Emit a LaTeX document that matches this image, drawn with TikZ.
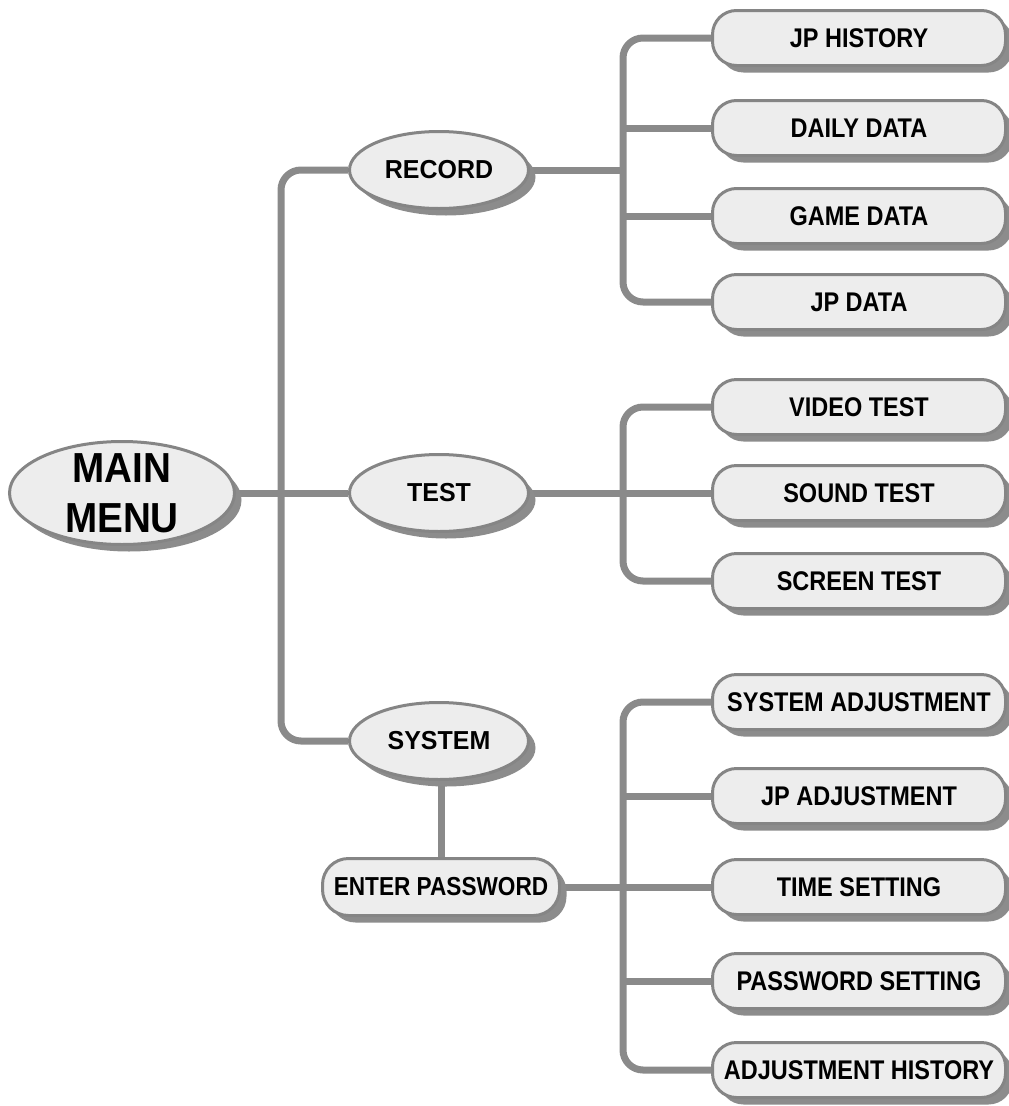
\documentclass[tikz,border=0pt]{standalone}
\usepackage{fontspec}
\setmainfont{Liberation Sans}
\newfontfamily\ellfont{Liberation Sans}[FakeStretch=0.96]
\newfontfamily\boxfont{Liberation Sans}[FakeStretch=0.87]
\newfontfamily\bigfont{Liberation Sans}[FakeStretch=0.92]
\usetikzlibrary{shapes.geometric,shadows,backgrounds}
\definecolor{linegray}{HTML}{8A8A8A}
\definecolor{edgegray}{HTML}{858585}
\definecolor{fillgray}{HTML}{EDEDED}
\definecolor{shadowgray}{HTML}{8C8C8C}
\tikzset{
  conn/.style={draw=linegray, line width=7pt, rounded corners=20pt},
  shad/.style={drop shadow={shadow xshift=7pt, shadow yshift=-7pt, fill=shadowgray, opacity=1}},
  ellnode/.style={ellipse, draw=edgegray, line width=3pt, fill=fillgray,
    minimum width=179pt, minimum height=77pt, inner sep=0pt, shad,
    font=\ellfont\bfseries\fontsize{26}{30}\selectfont},
  mainnode/.style={ellipse, draw=edgegray, line width=3pt, fill=fillgray,
    minimum width=225pt, minimum height=103pt, inner xsep=0pt, inner ysep=-10pt, shad,
    align=center, font=\bigfont\bfseries\fontsize{42}{50}\selectfont},
  boxnode/.style={rectangle, rounded corners=24pt, draw=edgegray, line width=3pt, fill=fillgray,
    minimum width=293pt, minimum height=55pt, inner sep=0pt, shad,
    font=\boxfont\bfseries\fontsize{27}{30}\selectfont},
  pwnode/.style={boxnode, minimum width=237pt, minimum height=57pt, rounded corners=26pt,
    font=\boxfont\bfseries\fontsize{26}{30}\selectfont}
}
\begin{document}
\begin{tikzpicture}[x=1pt,y=-1pt]
\useasboundingbox (0,0) rectangle (1009,1106);
\coordinate (trunk) at (281,0);
\coordinate (bus) at (623,0);

\node[mainnode] (main) at (122,493) {MAIN\\MENU};
\node[ellnode] (record) at (439,170) {RECORD};
\node[ellnode] (test) at (439,493) {TEST};
\node[ellnode] (system) at (439,741) {SYSTEM};
\node[pwnode] (enter) at (441,887) {ENTER PASSWORD};

\node[boxnode] (jph) at (859,38) {JP HISTORY};
\node[boxnode] (dd) at (859,128) {DAILY DATA};
\node[boxnode] (gd) at (859,216) {GAME DATA};
\node[boxnode] (jpd) at (859,302) {JP DATA};

\node[boxnode] (video) at (859,407) {VIDEO TEST};
\node[boxnode] (sound) at (859,493) {SOUND TEST};
\node[boxnode] (screen) at (859,581) {SCREEN TEST};

\node[boxnode] (sysadj) at (859,702) {SYSTEM ADJUSTMENT};
\node[boxnode] (jpadj) at (859,796) {JP ADJUSTMENT};
\node[boxnode] (time) at (859,887) {TIME SETTING};
\node[boxnode] (pwset) at (859,981) {PASSWORD SETTING};
\node[boxnode] (adjh) at (859,1070) {ADJUSTMENT HISTORY};

\begin{scope}[on background layer]
\draw[conn] (main.east) -- (test.west);
\draw[conn] (record.west) -| (trunk |- system.west) -- (system.west);

\draw[conn] (record.east) -- (bus |- record.east);
\draw[conn] (jph.west) -| (bus |- jpd.west) -- (jpd.west);
\draw[conn] (bus |- dd.west) -- (dd.west);
\draw[conn] (bus |- gd.west) -- (gd.west);

\draw[conn] (test.east) -- (sound.west);
\draw[conn] (video.west) -| (bus |- screen.west) -- (screen.west);

\draw[conn] (system.south -| enter.north) -- (enter.north);
\draw[conn] (enter.east) -- (time.west);
\draw[conn] (sysadj.west) -| (bus |- adjh.west) -- (adjh.west);
\draw[conn] (bus |- jpadj.west) -- (jpadj.west);
\draw[conn] (bus |- pwset.west) -- (pwset.west);
\end{scope}
\end{tikzpicture}
\end{document}
